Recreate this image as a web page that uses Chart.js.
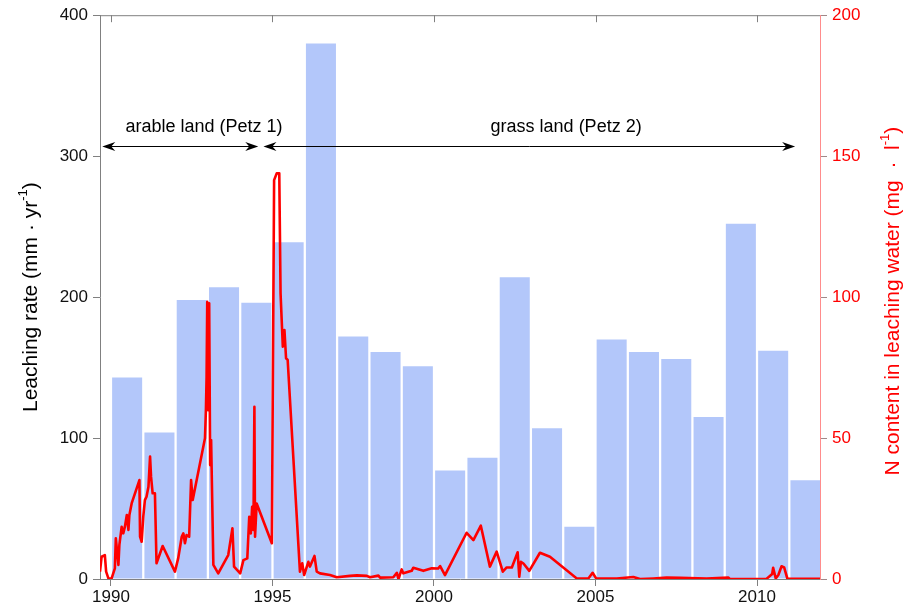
<!DOCTYPE html>
<html>
<head>
<meta charset="utf-8">
<script src="https://cdn.jsdelivr.net/npm/chart.js@4.4.0/dist/chart.umd.min.js"></script>
<style>
  html, body { margin: 0; padding: 0; background: #fff; }
  #wrap { width: 916px; height: 611px; position: relative; }
</style>
</head>
<body>
<div id="wrap"><canvas id="chart" width="916" height="611"></canvas></div>
<script>
// yearly leaching rate (mm/yr), bar drawn over each year
const years = [1990, 1991, 1992, 1993, 1994, 1995, 1996, 1997, 1998, 1999, 2000,
  2001, 2002, 2003, 2004, 2005, 2006, 2007, 2008, 2009, 2010, 2011];
const leaching = [143, 104, 198, 207, 196, 239, 380, 172, 161, 151, 77,
  86, 214, 107, 37, 170, 161, 156, 115, 252, 162, 70];

// N content in leaching water (mg/l), decimal years
const nTime = [1989.66, 1989.71, 1989.81, 1989.85, 1989.92, 1990.02, 1990.12, 1990.15, 1990.23, 1990.26,
  1990.33, 1990.38, 1990.43, 1990.49, 1990.54, 1990.57, 1990.64, 1990.88, 1990.90, 1990.95,
  1991.00, 1991.05, 1991.10, 1991.16, 1991.21, 1991.24, 1991.29, 1991.36, 1991.41, 1991.60,
  1991.98, 1992.08, 1992.19, 1992.24, 1992.29, 1992.34, 1992.42, 1992.48, 1992.53, 1992.91,
  1992.94, 1992.96, 1992.98, 1993.01, 1993.04, 1993.07, 1993.10, 1993.17, 1993.32, 1993.63,
  1993.76, 1993.81, 1994.00, 1994.10, 1994.22, 1994.28, 1994.33, 1994.37, 1994.41, 1994.44,
  1994.46, 1994.51, 1994.98, 1995.05, 1995.13, 1995.21, 1995.25, 1995.32, 1995.37, 1995.42,
  1995.47, 1995.85, 1995.92, 1995.98, 1996.11, 1996.16, 1996.30, 1996.37, 1996.47, 1996.78,
  1996.99, 1997.40, 1997.61, 1997.92, 1998.02, 1998.28, 1998.33, 1998.74, 1998.85, 1998.90,
  1999.00, 1999.05, 1999.31, 1999.36, 1999.67, 1999.93, 2000.13, 2000.19, 2000.34, 2001.01,
  2001.22, 2001.45, 2001.73, 2001.94, 2002.13, 2002.25, 2002.41, 2002.59, 2002.64, 2002.69,
  2002.77, 2002.95, 2003.28, 2003.59, 2004.42, 2004.78, 2004.91, 2005.02, 2005.66, 2006.17,
  2006.38, 2006.79, 2007.20, 2007.62, 2008.44, 2009.11, 2009.16, 2010.30, 2010.47, 2010.50,
  2010.58, 2010.66, 2010.76, 2010.84, 2010.94, 2011.95];
const nValue = [2.6, 7.9, 8.5, 2.6, 0.2, 0.2, 3.8, 14.4, 5.0, 12.1,
  18.5, 16.2, 18.5, 22.7, 17.4, 22.7, 26.8, 35.1, 15.0, 13.2,
  22.1, 28.0, 29.2, 32.7, 43.4, 36.3, 30.4, 30.4, 5.6, 11.7,
  2.6, 7.3, 15.0, 16.2, 12.7, 15.6, 15.0, 35.1, 28.0, 49.9,
  60.5, 71.7, 98.3, 59.9, 97.8, 40.4, 49.3, 5.0, 2.0, 8.5,
  18.0, 4.4, 2.0, 6.7, 7.3, 22.1, 16.2, 25.6, 17.4, 61.1,
  15.0, 26.8, 12.7, 141.5, 143.9, 143.9, 101.3, 82.4, 88.3, 78.3,
  77.7, 2.6, 5.6, 1.4, 6.1, 4.4, 8.2, 2.6, 2.0, 1.4,
  0.6, 1.1, 1.3, 1.1, 0.6, 1.2, 0.5, 0.6, 2.2, 0.0,
  3.4, 2.0, 2.9, 4.0, 2.9, 3.8, 3.7, 4.6, 1.4, 16.4,
  13.8, 18.9, 4.4, 9.7, 2.6, 4.1, 4.1, 9.5, 0.8, 6.1,
  5.5, 2.9, 9.3, 7.9, 0.2, 0.2, 2.2, 0.2, 0.2, 0.7,
  0.0, 0.2, 0.5, 0.4, 0.2, 0.5, 0.0, 0.1, 1.8, 4.0,
  0.2, 1.4, 4.5, 4.1, 0.1, 0.1];

const xTicks = [1990, 1995, 2000, 2005, 2010];

// land use periods
const periodLabels = ['arable land (Petz 1)', 'grass land (Petz 2)'];
const periodStart = [1989.73, 1994.72];
const periodEnd = [1994.56, 2011.18];
const periodTextX = [1992.88, 2004.09];

const FONT = '"Liberation Sans", Arial, Helvetica, sans-serif';
Chart.defaults.font.family = FONT;

function arrowHead(ctx, tx, ty, dir) {
  // dir = -1 points left, 1 points right
  ctx.beginPath();
  ctx.moveTo(tx, ty);
  ctx.lineTo(tx - dir * 13, ty - 4.5);
  ctx.lineTo(tx - dir * 9, ty);
  ctx.lineTo(tx - dir * 13, ty + 4.5);
  ctx.closePath();
  ctx.fill();
}

function rotatedTitle(ctx, cx, cy, main, sup, tail, color) {
  ctx.save();
  ctx.translate(cx, cy);
  ctx.rotate(-Math.PI / 2);
  ctx.fillStyle = color;
  ctx.textBaseline = 'middle';
  ctx.textAlign = 'left';
  const big = '21px ' + FONT, small = '13px ' + FONT;
  ctx.font = big;
  const w1 = ctx.measureText(main).width;
  const w3 = ctx.measureText(tail).width;
  ctx.font = small;
  const w2 = ctx.measureText(sup).width;
  let x0 = -(w1 + w2 + w3) / 2;
  ctx.font = big;
  ctx.fillText(main, x0, 0);
  ctx.font = small;
  ctx.fillText(sup, x0 + w1, -8);
  ctx.font = big;
  ctx.fillText(tail, x0 + w1 + w2, 0);
  ctx.restore();
}

const extras = {
  id: 'extras',
  afterDatasetsDraw(chart) {
    const { ctx, chartArea: a, scales: { x, y } } = chart;
    ctx.save();
    // top frame with inner ticks
    ctx.strokeStyle = '#808080';
    ctx.lineWidth = 1;
    ctx.beginPath();
    ctx.moveTo(a.left, a.top + 0.5);
    ctx.lineTo(a.right, a.top + 0.5);
    xTicks.forEach(v => {
      const px = Math.round(x.getPixelForValue(v)) + 0.5;
      ctx.moveTo(px, a.top);
      ctx.lineTo(px, a.top + 7);
    });
    ctx.stroke();

    // period arrows + labels
    const ay = Math.round(y.getPixelForValue(307)) + 0.5;
    const ty = y.getPixelForValue(320.6);
    ctx.strokeStyle = '#000';
    ctx.fillStyle = '#000';
    ctx.lineWidth = 1;
    ctx.font = '18px ' + FONT;
    ctx.textAlign = 'center';
    ctx.textBaseline = 'middle';
    periodLabels.forEach((lab, i) => {
      const x0 = x.getPixelForValue(periodStart[i]);
      const x1 = x.getPixelForValue(periodEnd[i]);
      ctx.beginPath();
      ctx.moveTo(x0 + 8, ay);
      ctx.lineTo(x1 - 8, ay);
      ctx.stroke();
      arrowHead(ctx, x0, ay, -1);
      arrowHead(ctx, x1, ay, 1);
      ctx.fillText(lab, x.getPixelForValue(periodTextX[i]), ty);
    });
    ctx.restore();
  },
  afterDraw(chart) {
    const { ctx, chartArea: a } = chart;
    const cy = (a.top + a.bottom) / 2;
    rotatedTitle(ctx, 31, cy, 'Leaching rate (mm \u00b7 yr', '-1', ')', '#000');
    rotatedTitle(ctx, 893, cy + 4, 'N content in leaching water (mg  \u00b7  l', '-1', ')', '#ff0000');
  }
};

new Chart(document.getElementById('chart'), {
  type: 'bar',
  data: {
    datasets: [
      {
        type: 'line',
        label: 'N content',
        data: nTime.map((t, i) => ({ x: t, y: nValue[i] })),
        yAxisID: 'y1',
        borderColor: '#ff0000',
        borderWidth: 2.6,
        pointRadius: 0,
        tension: 0,
        borderJoinStyle: 'round',
        order: 0
      },
      {
        type: 'bar',
        label: 'Leaching rate',
        data: years.map((yr, i) => ({ x: yr + 0.5, y: leaching[i] })),
        yAxisID: 'y',
        backgroundColor: '#b3c7fa',
        borderWidth: 0,
        barPercentage: 0.93,
        categoryPercentage: 1,
        grouped: false,
        order: 1
      }
    ]
  },
  options: {
    responsive: false,
    animation: false,
    layout: { padding: { top: 15, left: 0, right: 0, bottom: 0 } },
    plugins: { legend: { display: false }, tooltip: { enabled: false } },
    scales: {
      x: {
        type: 'linear',
        min: 1989.66,
        max: 2011.95,
        offset: false,
        afterBuildTicks: s => { s.ticks = xTicks.map(v => ({ value: v })); },
        afterFit: s => { s.height = 32; },
        grid: { offset: false, drawOnChartArea: false, drawTicks: true, tickLength: 7, color: '#808080' },
        border: { display: true, color: '#808080' },
        ticks: { color: '#111', font: { size: 17 }, padding: 1, maxRotation: 0, callback: v => String(v) }
      },
      y: {
        position: 'left',
        min: 0,
        max: 400,
        afterFit: s => { s.width = 100; },
        grid: { drawOnChartArea: false, drawTicks: true, tickLength: 7, color: '#808080' },
        border: { display: true, color: '#808080' },
        ticks: { stepSize: 100, color: '#111', font: { size: 17 }, padding: 5 }
      },
      y1: {
        position: 'right',
        min: 0,
        max: 200,
        afterFit: s => { s.width = 96; },
        grid: { drawOnChartArea: false, drawTicks: true, tickLength: 7, color: '#a08888' },
        border: { display: true, color: '#ff8c8c' },
        ticks: { stepSize: 50, color: '#ff0000', font: { size: 17 }, padding: 5 }
      }
    }
  },
  plugins: [extras]
});
</script>
</body>
</html>
